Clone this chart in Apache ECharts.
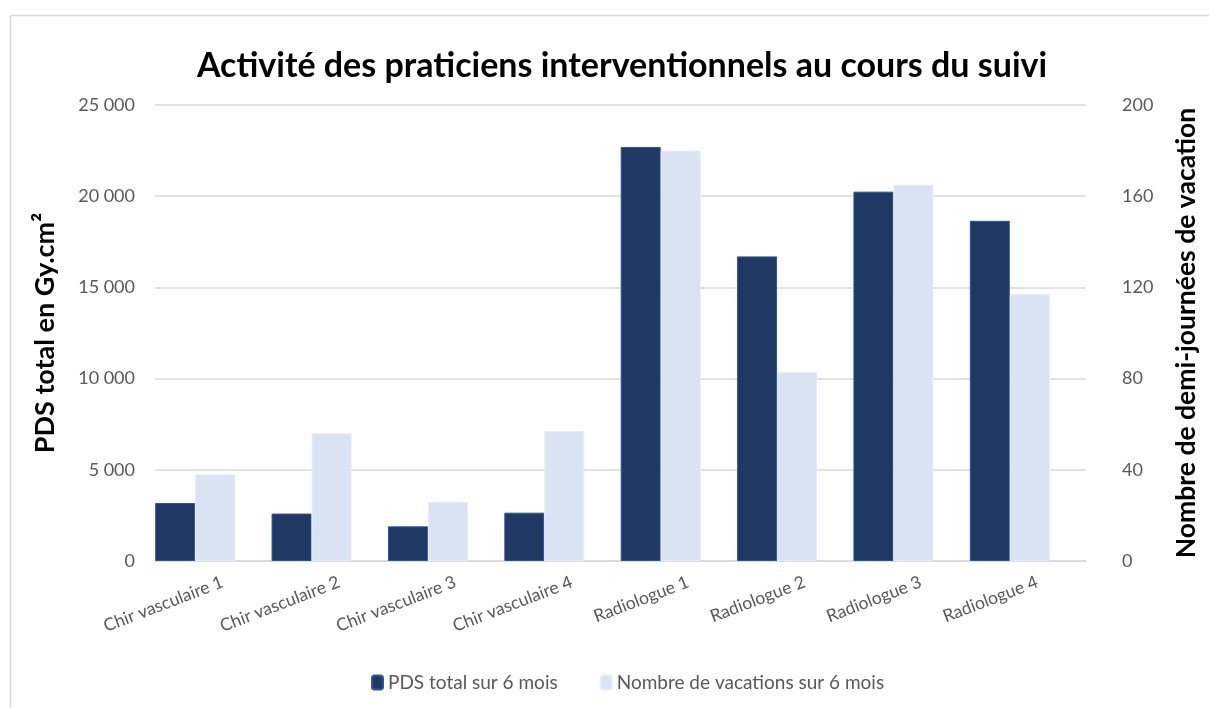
<!DOCTYPE html>
<html>
<head>
<meta charset="utf-8">
<script src="https://cdn.jsdelivr.net/npm/echarts@6/dist/echarts.min.js"></script>
<style>
html,body{margin:0;padding:0;background:#fff;}
#c{width:1209px;height:708px;}
</style>
</head>
<body>
<div id="c"></div>
<script>
const categories = ['Chir vasculaire 1','Chir vasculaire 2','Chir vasculaire 3','Chir vasculaire 4','Radiologue 1','Radiologue 2','Radiologue 3','Radiologue 4'];
const pdsTotal = [3180, 2600, 1900, 2650, 22700, 16700, 20250, 18650];
const vacations = [38, 56, 26, 57, 180, 83, 165, 117];
const leftTicks = [0, 5000, 10000, 15000, 20000, 25000];
const rightTicks = [0, 40, 80, 120, 160, 200];
const seriesNames = ['PDS total sur 6 mois', 'Nombre de vacations sur 6 mois'];
const titleText = 'Activité des praticiens interventionnels au cours du suivi';
const leftAxisName = 'PDS total en Gy.cm²';
const rightAxisName = 'Nombre de demi-journées de vacation';

const FONT = 'Lato';
const chart = echarts.init(document.getElementById('c'), null, {renderer: 'canvas'});
function fmt(v){ return String(v).replace(/\B(?=(\d{3})+(?!\d))/g, ' '); }

chart.setOption({
  backgroundColor: '#ffffff',
  animation: false,
  graphic: [{
    type: 'rect', shape: {x: 10.5, y: 15.5, width: 1230, height: 720},
    style: {fill: 'none', stroke: '#d9d9d9', lineWidth: 1.5}, silent: true, z: -1
  }],
  title: {
    text: titleText, left: 617, textAlign: 'center', top: 44,
    textStyle: {fontFamily: FONT, fontWeight: 'bold', fontSize: 34, color: '#000000'}
  },
  legend: {
    data: seriesNames, bottom: 11, left: 366, itemWidth: 11, itemHeight: 14, itemGap: 42,
    textStyle: {fontFamily: FONT, fontSize: 19, color: '#595959'}
  },
  grid: {left: 155, right: 123, top: 105, bottom: 147, containLabel: false},
  xAxis: {
    type: 'category', data: categories,
    axisTick: {show: false},
    axisLine: {lineStyle: {color: '#d9d9d9', width: 1.5}},
    axisLabel: {rotate: 21, margin: 24, interval: 0, fontFamily: FONT, fontSize: 17.5, color: '#595959', padding: [0, -10, 0, 0]}
  },
  yAxis: [{
    type: 'value', min: leftTicks[0], max: leftTicks[leftTicks.length-1], interval: leftTicks[1]-leftTicks[0],
    name: leftAxisName, nameLocation: 'middle', nameGap: 96,
    nameTextStyle: {fontFamily: FONT, fontWeight: 'bold', fontSize: 27, color: '#000000'},
    axisLabel: {formatter: fmt, margin: 20, fontFamily: FONT, fontSize: 18, color: '#595959'},
    splitLine: {lineStyle: {color: '#d9d9d9', width: 1.5}},
    axisLine: {show: false}, axisTick: {show: false}
  }, {
    type: 'value', position: 'right', min: rightTicks[0], max: rightTicks[rightTicks.length-1], interval: rightTicks[1]-rightTicks[0],
    name: rightAxisName, nameLocation: 'middle', nameGap: 87,
    nameTextStyle: {fontFamily: FONT, fontWeight: 'bold', fontSize: 26.5, color: '#000000'},
    axisLabel: {formatter: fmt, margin: 36, fontFamily: FONT, fontSize: 18, color: '#595959'},
    splitLine: {show: false},
    axisLine: {show: false}, axisTick: {show: false}
  }],
  series: [{
    name: seriesNames[0], type: 'bar', yAxisIndex: 0, data: pdsTotal,
    barWidth: 40, barGap: '0%',
    itemStyle: {color: '#203864', borderColor: '#2f5597', borderWidth: 1}
  }, {
    name: seriesNames[1], type: 'bar', yAxisIndex: 1, data: vacations,
    barWidth: 40, barGap: '0%',
    itemStyle: {color: '#dae3f3', borderColor: '#e6ecf7', borderWidth: 1}
  }, {
    name: 'spacer', type: 'bar', yAxisIndex: 0, data: categories.map(() => null),
    barWidth: 36, barGap: '0%', silent: true
  }]
});
</script>
</body>
</html>
